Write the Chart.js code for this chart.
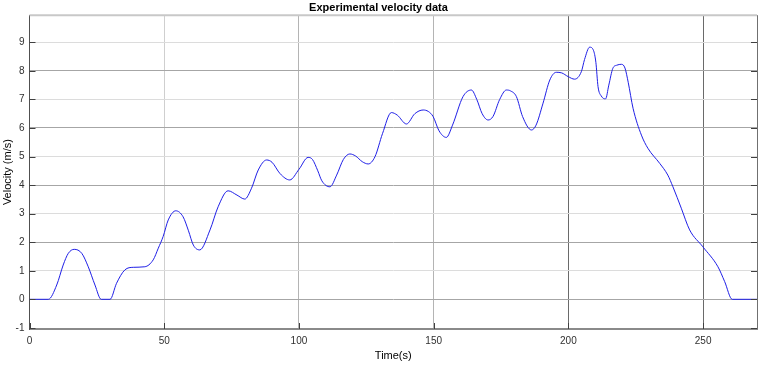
<!DOCTYPE html>
<html>
<head>
<meta charset="utf-8">
<script src="https://cdn.jsdelivr.net/npm/chart.js@4"></script>
<style>
  html, body { margin: 0; padding: 0; background: #fff; }
  #wrap { width: 767px; height: 365px; }
</style>
</head>
<body>
<div id="wrap"><canvas id="chart" width="767" height="365"></canvas></div>
<script>
// ---------- data ----------
const times = [
    0, 7, 10.1, 12.5, 14.4, 16.6, 19.4, 21.8, 24.3, 26.6, 29.9,
    32.3, 35.4, 38.5, 42.8, 45.9, 47.8, 49.6, 51.5, 54.3,
    57.0, 59, 60.8, 63.2, 67.0, 70, 73.7, 77, 79.9, 82.4,
    84.9, 88, 90, 93, 96.6, 100, 103.4, 105, 107, 108.5, 111.5, 114,
    116.5, 118.9, 121, 123.5, 125.7, 128.2, 131, 134.3, 136.5, 139.9, 143, 146.1,
    148, 149.8, 152, 154.7, 157, 160.9, 164.0, 166, 168, 170.2, 172, 174.5,
    177.0, 178.5, 180.7, 183, 186.3, 188, 190.6, 193.1, 195.5, 197.5, 199.9, 202.3,
    204.8, 206, 207.9, 209.3, 210.2, 211, 212.2, 213.8, 215, 216.5, 218, 219.7,
    221, 222.2, 224.0, 227.1, 229.5, 233.9, 236.9, 238.8, 241.9, 245.0, 249.9, 255.5,
    258.0, 260.8, 270
];
const velocity = [
    0, 0, 0.5, 1.2, 1.61, 1.75, 1.61, 1.14, 0.5, 0, 0,
    0.56, 1.03, 1.12, 1.14, 1.38, 1.79, 2.2, 2.78, 3.1,
    2.89, 2.4, 1.9, 1.73, 2.43, 3.24, 3.8, 3.65, 3.51, 3.89,
    4.53, 4.88, 4.8, 4.4, 4.18, 4.55, 4.97, 4.9, 4.5, 4.15, 3.94, 4.35,
    4.9, 5.09, 5.02, 4.82, 4.74, 4.99, 5.8, 6.54, 6.45, 6.14, 6.5, 6.63,
    6.58, 6.40, 5.9, 5.67, 6.1, 7.10, 7.33, 7.0, 6.5, 6.28, 6.4, 7.0,
    7.33, 7.3, 7.10, 6.4, 5.93, 6.1, 6.87, 7.68, 7.95, 7.93, 7.80, 7.71,
    7.97, 8.4, 8.83, 8.72, 8.3, 7.45, 7.12, 7.02, 7.5, 8.09, 8.2, 8.23,
    8.1, 7.6, 6.69, 5.75, 5.29, 4.76, 4.35, 3.94, 3.19, 2.43, 1.84, 1.14,
    0.62, 0, 0
];
const xTicks = [0, 50, 100, 150, 200, 250];
const yTicks = [-1, 0, 1, 2, 3, 4, 5, 6, 7, 8, 9];

const FONT = "'Liberation Sans', Arial, Helvetica, sans-serif";

// ---------- grid colours (the picture's grid is uneven) ----------
function xGridColor(ctx) {
    const v = ctx.tick ? ctx.tick.value : null;
    if (v === 200 || v === 250) return '#6a6a6a';
    if (v === 150 || v === 100) return '#b4b4b4';
    return '#cfcfcf';
}
function yGridColor(ctx) {
    const v = ctx.tick ? ctx.tick.value : null;
    if (v === -1) return 'rgba(0,0,0,0)';
    return (v % 2 === 0) ? '#a6a6a6' : '#dcdcdc';
}

// ---------- box + inward tick marks ----------
const boxPlugin = {
    id: 'box',
    afterDraw(chart) {
        const c = chart.ctx;
        const a = chart.chartArea;
        const xs = chart.scales.x, ys = chart.scales.y;
        c.save();
        // top edge
        c.strokeStyle = '#c8c8c8';
        c.lineWidth = 2;
        c.beginPath();
        c.moveTo(a.left, a.top);
        c.lineTo(a.right, a.top);
        c.stroke();
        // right edge
        c.strokeStyle = '#707070';
        c.lineWidth = 1;
        c.beginPath();
        c.moveTo(a.right + 0.5, a.top);
        c.lineTo(a.right + 0.5, a.bottom);
        c.stroke();
        // inward ticks
        c.strokeStyle = '#404040';
        c.beginPath();
        yTicks.forEach(v => {
            const py = Math.round(ys.getPixelForValue(v)) + 0.5;
            c.moveTo(a.right, py); c.lineTo(a.right - 6, py);
            c.moveTo(a.left, py); c.lineTo(a.left + 6, py);
        });
        xTicks.forEach(v => {
            const px = Math.round(xs.getPixelForValue(v)) + 0.5;
            c.moveTo(px, a.bottom); c.lineTo(px, a.bottom - 6);
        });
        c.stroke();
        c.restore();
    }
};

const ctx = document.getElementById('chart').getContext('2d');

const chart = new Chart(ctx, {
    type: 'line',
    data: {
        datasets: [{
            label: 'velocity',
            data: times.map((t, i) => ({ x: t, y: velocity[i] })),
            borderColor: '#1f1fe6',
            borderWidth: 1,
            pointRadius: 0,
            cubicInterpolationMode: 'monotone',
            fill: false
        }]
    },
    options: {
        responsive: false,
        animation: false,
        layout: { padding: { left: 0, right: 10, top: 0, bottom: 0 } },
        plugins: {
            legend: { display: false },
            tooltip: { enabled: false },
            title: {
                display: true,
                text: 'Experimental velocity data',
                color: '#000',
                font: { family: FONT, size: 11, weight: 'bold' },
                padding: { top: 1, bottom: 1 }
            }
        },
        scales: {
            x: {
                type: 'linear',
                min: 0, max: 270,
                afterBuildTicks: s => { s.ticks = xTicks.map(v => ({ value: v })); },
                afterFit: s => { s.height = 36; },
                ticks: {
                    color: '#303030',
                    padding: 6,
                    maxRotation: 0,
                    font: { family: FONT, size: 10 }
                },
                grid: { color: xGridColor, drawTicks: false },
                border: { display: true, color: '#8a8a8a', width: 2 },
                title: {
                    display: true,
                    text: 'Time(s)',
                    color: '#000',
                    font: { family: FONT, size: 11 },
                    padding: { top: 0, bottom: 2 }
                }
            },
            y: {
                type: 'linear',
                min: -1.04, max: 9.95,
                afterBuildTicks: s => { s.ticks = yTicks.map(v => ({ value: v })); },
                afterFit: s => { s.width = 29.5; },
                ticks: {
                    color: '#303030',
                    padding: 5,
                    font: { family: FONT, size: 10 }
                },
                grid: { color: yGridColor, drawTicks: false },
                border: { display: true, color: '#505050', width: 1 },
                title: {
                    display: true,
                    text: 'Velocity (m/s)',
                    color: '#000',
                    font: { family: FONT, size: 11 },
                    padding: { top: 1, bottom: 0 }
                }
            }
        }
    },
    plugins: [boxPlugin]
});
</script>
</body>
</html>
